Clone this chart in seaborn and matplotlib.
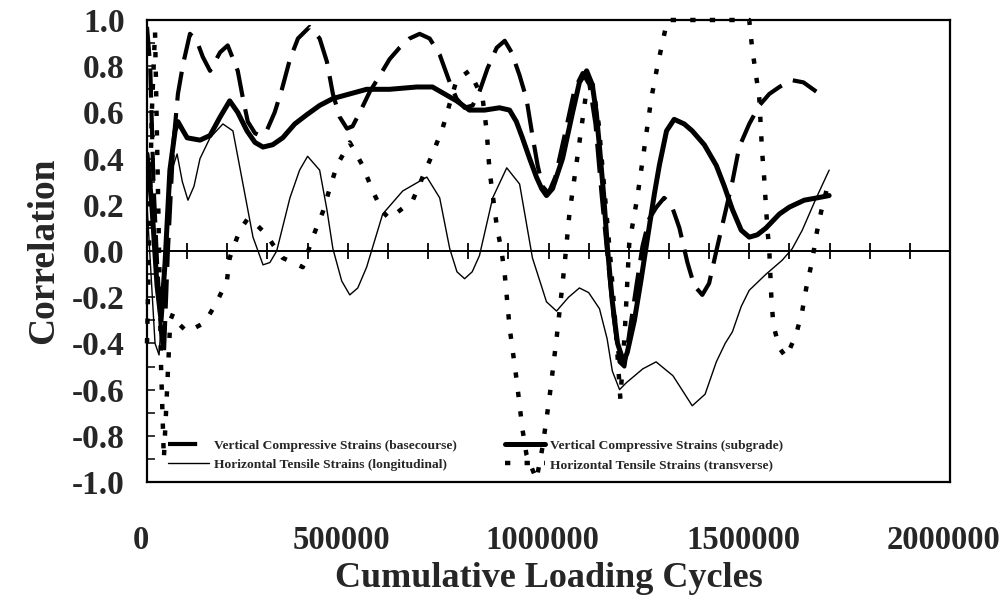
import numpy as np
import matplotlib
matplotlib.use("Agg")
import matplotlib.pyplot as plt
import matplotlib.transforms as mtransforms
import seaborn as sns
from matplotlib.ticker import MultipleLocator, FormatStrFormatter, FixedLocator, NullFormatter

# ---------------------------------------------------------------------------
# Correlation vs cumulative loading cycles
# ---------------------------------------------------------------------------
base_x = [0, 8000, 16000, 25000, 35000, 42000, 52000, 65000, 77000, 90000,
          107000, 124000, 139000, 157000, 182000, 201000, 226000, 239000, 251000,
          269000, 281000, 298000, 318000, 336000, 356000, 376000, 405000, 430000,
          448000, 463000, 480000, 498000, 512000, 530000, 555000, 580000, 604000,
          629000, 654000, 679000, 704000, 729000, 754000, 771000, 791000, 811000,
          828000, 848000, 871000, 891000, 908000, 928000, 945000, 960000, 973000,
          985000, 1000000, 1017000, 1040000, 1065000, 1085000, 1102000, 1117000,
          1132000, 1147000, 1162000, 1177000, 1189000, 1201000, 1219000, 1234000,
          1251000, 1269000, 1288000, 1306000, 1326000, 1346000, 1363000, 1383000,
          1400000, 1418000, 1438000, 1458000, 1475000, 1500000, 1525000, 1550000,
          1575000, 1605000, 1635000, 1667000]
base_y = [0.97, 0.80, 0.30, -0.05, -0.35, -0.45, 0.00, 0.45, 0.68, 0.81,
          0.94, 0.91, 0.84, 0.78, 0.86, 0.89, 0.78, 0.66, 0.56,
          0.51, 0.50, 0.52, 0.60, 0.70, 0.83, 0.92, 0.97, 0.92,
          0.82, 0.68, 0.58, 0.53, 0.54, 0.60, 0.69, 0.76, 0.83,
          0.88, 0.92, 0.94, 0.92, 0.85, 0.73, 0.66, 0.62, 0.63,
          0.69, 0.79, 0.88, 0.91, 0.86, 0.76, 0.66, 0.50, 0.37,
          0.28, 0.25, 0.32, 0.50, 0.70, 0.77, 0.72, 0.55,
          0.25, -0.02, -0.28, -0.48, -0.50, -0.36, -0.15, 0.02,
          0.14, 0.19, 0.23, 0.20, 0.10, -0.05, -0.15, -0.19,
          -0.14, 0.00, 0.15, 0.30, 0.45, 0.55, 0.63, 0.68,
          0.71, 0.74, 0.73, 0.69]

sub_x = [0, 12000, 25000, 35000, 45000, 57000, 70000, 77000, 90000, 100000,
         132000, 157000, 182000, 206000, 226000, 249000, 269000, 289000, 313000,
         338000, 368000, 398000, 430000, 463000, 505000, 547000, 604000, 672000,
         711000, 741000, 771000, 803000, 841000, 878000, 903000, 920000, 935000,
         953000, 970000, 983000, 995000, 1010000, 1035000, 1060000, 1077000,
         1095000, 1109000, 1119000, 1127000, 1137000, 1147000, 1159000, 1172000,
         1187000, 1196000, 1214000, 1231000, 1246000, 1264000, 1276000, 1294000,
         1313000, 1338000, 1358000, 1388000, 1418000, 1438000, 1458000, 1480000,
         1500000, 1520000, 1542000, 1575000, 1600000, 1637000, 1669000, 1699000]
sub_y = [0.42, 0.20, -0.15, -0.30, -0.05, 0.35, 0.52, 0.56, 0.52, 0.49,
         0.48, 0.50, 0.58, 0.65, 0.60, 0.52, 0.47, 0.45, 0.46,
         0.49, 0.55, 0.59, 0.63, 0.66, 0.68, 0.70, 0.70, 0.71,
         0.71, 0.68, 0.65, 0.61, 0.61, 0.62, 0.61, 0.56, 0.49,
         0.40, 0.32, 0.27, 0.24, 0.27, 0.40, 0.60, 0.73,
         0.78, 0.72, 0.60, 0.45, 0.25, 0.01, -0.22, -0.40,
         -0.48, -0.44, -0.30, -0.12, 0.05, 0.25, 0.37, 0.52,
         0.57, 0.55, 0.52, 0.46, 0.37, 0.28, 0.18, 0.09,
         0.06, 0.07, 0.10, 0.16, 0.19, 0.22, 0.23, 0.24]

long_x = [0, 10000, 20000, 30000, 40000, 50000, 62000, 75000, 88000, 102000,
          117000, 132000, 157000, 189000, 214000, 239000, 264000, 289000, 306000,
          323000, 356000, 380000, 400000, 430000, 448000, 463000, 485000, 505000,
          525000, 547000, 587000, 637000, 697000, 729000, 754000, 772000, 791000,
          810000, 828000, 861000, 896000, 928000, 960000, 995000, 1020000,
          1050000, 1077000, 1100000, 1127000, 1146000, 1159000, 1177000, 1194000,
          1235000, 1268000, 1310000, 1358000, 1390000, 1418000, 1440000, 1458000,
          1480000, 1500000, 1542000, 1582000, 1607000, 1632000, 1667000, 1699000]
long_y = [0.20, -0.10, -0.40, -0.45, -0.20, 0.10, 0.35, 0.42, 0.30, 0.22,
          0.28, 0.40, 0.49, 0.55, 0.52, 0.29, 0.06, -0.06, -0.05,
          0.00, 0.23, 0.35, 0.41, 0.35, 0.18, 0.01, -0.13, -0.19,
          -0.16, -0.07, 0.16, 0.26, 0.32, 0.23, 0.01, -0.09, -0.12,
          -0.09, -0.02, 0.23, 0.36, 0.29, -0.03, -0.22, -0.26,
          -0.20, -0.16, -0.18, -0.25, -0.38, -0.52, -0.60, -0.57,
          -0.51, -0.48, -0.54, -0.67, -0.62, -0.48, -0.40, -0.35,
          -0.24, -0.17, -0.10, -0.04, 0.01, 0.09, 0.23, 0.35]

trans_x = [0, 12000, 20000, 28000, 35000, 42000, 50000, 58000, 65000, 82000,
           100000, 144000, 174000, 199000, 206000, 231000, 251000, 275000, 298000,
           313000, 338000, 388000, 413000, 438000, 455000, 473000, 505000, 537000,
           562000, 587000, 604000, 662000, 711000, 736000, 771000, 803000, 836000,
           846000, 853000, 871000, 883000, 891000, 903000, 920000, 935000, 945000,
           970000, 985000, 1002000, 1020000, 1040000, 1052000, 1077000, 1095000,
           1110000, 1125000, 1140000, 1155000, 1168000, 1179000, 1190000, 1201000,
           1221000, 1239000, 1256000, 1269000, 1281000, 1296000, 1350000, 1400000,
           1450000, 1500000, 1507000, 1517000, 1525000, 1532000, 1537000, 1545000,
           1550000, 1555000, 1560000, 1575000, 1592000, 1617000, 1632000, 1642000,
           1657000, 1667000, 1679000, 1692000]
trans_y = [-0.40, 0.60, 0.95, 0.20, -0.50, -0.90, -0.60, -0.30, -0.27, -0.32,
           -0.35, -0.31, -0.22, -0.13, -0.03, 0.09, 0.14, 0.11, 0.07,
           0.03, -0.03, -0.07, 0.06, 0.17, 0.27, 0.37, 0.47, 0.37,
           0.26, 0.17, 0.14, 0.22, 0.42, 0.53, 0.74, 0.78, 0.66,
           0.52, 0.35, 0.11, 0.00, -0.10, -0.33, -0.55, -0.77, -0.88,
           -0.99, -0.85, -0.64, -0.38, -0.06, 0.16, 0.47, 0.70,
           0.72, 0.55, 0.25, -0.05, -0.35, -0.64, -0.35, 0.03,
           0.23, 0.45, 0.66, 0.78, 0.88, 1.00, 1.00, 1.00,
           1.00, 1.00, 0.88, 0.76, 0.66, 0.43, 0.32, 0.10,
           0.00, -0.20, -0.32, -0.42, -0.46, -0.36, -0.26, -0.16,
           -0.04, 0.07, 0.17, 0.26]

labels = ["Vertical Compressive Strains (basecourse)",
          "Vertical Compressive Strains (subgrade)",
          "Horizontal Tensile Strains (longitudinal)",
          "Horizontal Tensile Strains (transverse)"]

x_major = [0, 500000, 1000000, 1500000, 2000000]

# ---------------------------------------------------------------------------
sns.set_style("white")
plt.rcParams["font.family"] = ["Liberation Serif", "DejaVu Serif"]
plt.rcParams["font.weight"] = "bold"
plt.rcParams["axes.unicode_minus"] = False

W, H = 1007, 597
fig = plt.figure(figsize=(W / 100, H / 100), dpi=100)
ax = fig.add_axes([147 / W, 1 - 482 / H, 803 / W, 462 / H])

styles = [
    (base_x, base_y, labels[0], 3.0, (7, 3)),
    (sub_x, sub_y, labels[1], 3.6, None),
    (long_x, long_y, labels[2], 1.0, None),
    (trans_x, trans_y, labels[3], 3.2, (1.2, 3.2)),
]
lines = []
for xs, ys, lab, lw, dash in styles:
    sns.lineplot(x=xs, y=ys, ax=ax, color="black", linewidth=lw,
                 sort=False, estimator=None, legend=False)
    ln = ax.lines[-1]
    ln.set_label(lab)
    if dash is not None:
        ln.set_dashes(dash)
        ln.set_dash_capstyle("butt")
    lines.append(ln)
lines[3].set_clip_on(False)

ax.set_xlim(0, 2000000)
ax.set_ylim(-1.0, 1.0)

# axis frame
for sp in ax.spines.values():
    sp.set_visible(True)
    sp.set_color("black")
    sp.set_linewidth(1.6)

# x tick labels along the bottom (no marks there)
ax.xaxis.set_major_locator(FixedLocator(x_major))
ax.xaxis.set_major_formatter(FormatStrFormatter("%d"))
ax.tick_params(axis="x", which="both", length=0, pad=31, labelsize=23.5)
shift = mtransforms.ScaledTranslation(-6 / 100, 0, fig.dpi_scale_trans)
for lbl in ax.get_xticklabels():
    lbl.set_transform(lbl.get_transform() + shift)

# y ticks every 0.1, labels every 0.2
ax.yaxis.set_major_locator(MultipleLocator(0.2))
ax.yaxis.set_minor_locator(MultipleLocator(0.1))
ax.yaxis.set_major_formatter(FormatStrFormatter("%.1f"))
ax.tick_params(axis="y", which="both", direction="in", length=6, width=1.3,
               left=True, right=False, pad=16, labelsize=24)

# zero line carrying the cycle ticks
zero_axis = ax.secondary_xaxis(0.5)
zero_axis.xaxis.set_major_locator(MultipleLocator(100000))
zero_axis.xaxis.set_major_formatter(NullFormatter())
zero_axis.tick_params(axis="x", which="both", direction="inout", length=12,
                      width=1.3, color="black")
for sp in zero_axis.spines.values():
    sp.set_linewidth(1.4)
    sp.set_color("black")

ax.set_xlabel("Cumulative Loading Cycles", fontsize=26, fontweight="bold", labelpad=4)
ax.set_ylabel("Correlation", fontsize=27, fontweight="bold", labelpad=8)

leg = ax.legend(handles=[lines[0], lines[2], lines[1], lines[3]],
                labels=[labels[0], labels[2], labels[1], labels[3]],
                ncol=2, frameon=False, loc="lower left",
                bbox_to_anchor=(0.02, 0.012), fontsize=9.7,
                handlelength=3.0, handletextpad=0.35, columnspacing=3.6,
                labelspacing=0.5, borderaxespad=0.0)
for t in leg.get_texts():
    t.set_fontweight("bold")

fig.savefig("out.png", dpi=100)
